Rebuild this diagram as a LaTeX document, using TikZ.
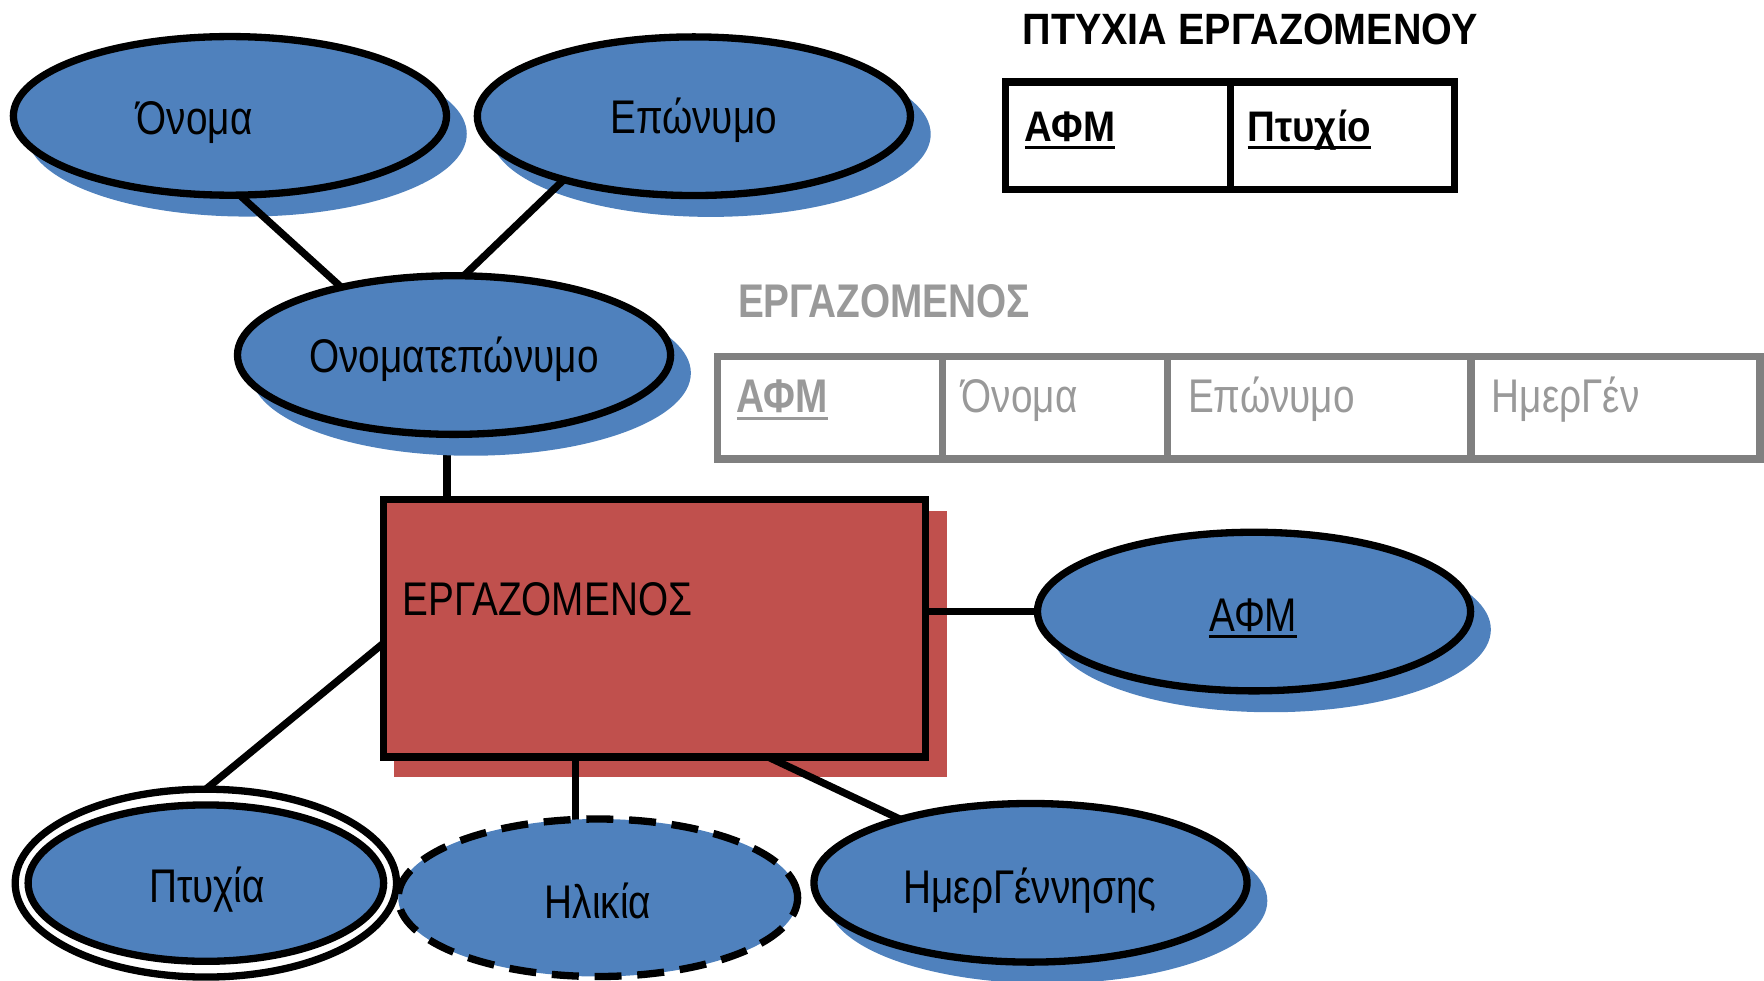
\documentclass[tikz,border=0pt]{standalone}
\usepackage{fontspec}
\setmainfont{Liberation Sans}[FakeStretch=0.82]
\newfontfamily\bfwide{Liberation Sans}[FakeStretch=0.9]
\usetikzlibrary{shapes.geometric}
\definecolor{erblue}{HTML}{4F81BD}
\definecolor{erred}{HTML}{C0504D}
\definecolor{tblgray}{HTML}{808080}
\definecolor{txtgray}{HTML}{999999}
\newsavebox\ulbox
\newcommand\ulinetext[1]{\sbox\ulbox{#1}\rlap{\rule[-6.5pt]{\wd\ulbox}{3pt}}\usebox\ulbox}
\pgfdeclarelayer{bg}
\pgfdeclarelayer{shade}
\pgfdeclarelayer{links}
\pgfsetlayers{bg,shade,links,main}
\tikzset{
  attr/.style={ellipse, draw=black, line width=6.5pt, fill=erblue, minimum width=385pt, minimum height=141pt, inner sep=0pt, outer sep=0pt},
  entity/.style={rectangle, draw=black, line width=6.5pt, fill=erred, minimum width=481.5pt, minimum height=229pt, inner sep=0pt, outer sep=0pt},
  dblouter/.style={ellipse, draw=black, line width=6.5pt, fill=white, minimum width=339pt, minimum height=167pt, inner sep=0pt, outer sep=0pt},
  derived/.style={dash pattern=on 24pt off 14pt},
  conn/.style={line width=6.5pt},
  lbl/.style={inner sep=0pt, outer sep=0pt, anchor=base, font=\fontsize{42}{48}\selectfont},
  hdr/.style={inner sep=0pt, outer sep=0pt, anchor=base west, font=\bfwide\bfseries\fontsize{39}{44}\selectfont},
  cellhdr/.style={inner sep=0pt, outer sep=0pt, anchor=base west, font=\bfwide\bfseries\fontsize{38}{44}\selectfont},
  graybf/.style={inner sep=0pt, outer sep=0pt, anchor=base west, text=txtgray, font=\bfseries\fontsize{42}{48}\selectfont},
  graytx/.style={inner sep=0pt, outer sep=0pt, anchor=base west, text=txtgray, font=\fontsize{42}{48}\selectfont},
  tbl/.style={draw=black, line width=6.5pt},
  tblg/.style={draw=tblgray, line width=6.5pt}
}
\begin{document}
\begin{tikzpicture}[x=1pt,y=-1pt]
\useasboundingbox (0,0) rectangle (1568,872);

% shapes
\node[attr] (onoma) at (204.4,103) {};
\node[attr] (epon) at (616.8,103.3) {};
\node[attr] (onomat) at (403.6,315.6) {};
\node[entity] (rect) at (581.75,558.5) {};
\node[attr] (afm) at (1114.7,543.6) {};
\node[dblouter] (ptyxout) at (183,785) {};
\node[attr, minimum width=316pt, minimum height=139pt] (ptyx) at (183,785) {};
\node[attr, derived, minimum width=355pt, minimum height=140pt] (ilikia) at (531.5,798) {};
\node[attr] (imer) at (916,784.7) {};

% shadows
\begin{pgfonlayer}{shade}
\foreach \n in {onoma,epon,onomat,afm,imer}
  \fill[erblue] ([shift={(15,16)}]\n.center) ellipse [x radius=195.5pt, y radius=73.5pt];
\fill[erred] ([shift={(9,10)}]rect.north west) rectangle ([shift={(19.5,18)}]rect.south east);
\end{pgfonlayer}

% connectors
\begin{pgfonlayer}{bg}
\draw[conn] (onomat.-95.4) -- (onomat.-95.4 |- rect.north);
\end{pgfonlayer}
\begin{pgfonlayer}{links}
\draw[conn] (onoma.-83.5) -- (onomat.149);
\draw[conn] (epon.-154.6) -- (onomat.83.6);
\draw[conn] (afm.west) -- (afm.west -| rect.east);
\draw[conn] ([yshift=-13.1pt]rect.west) -- (ptyxout.north);
\draw[conn] (ilikia.106.8) -- (ilikia.106.8 |- rect.south);
\draw[conn] ([xshift=101.25pt]rect.south) -- (imer.154.3);
\end{pgfonlayer}

% labels
\node[lbl] (tonoma) at (173,120) {Όνομα};
\node[lbl] (tepon) at (616.5,119) {Επώνυμο};
\node[lbl] (tonomat) at (403.6,330.7) {Ονοματεπώνυμο};
\node[lbl] (tafm) at (1114,561) {\ulinetext{ΑΦΜ}};
\node[lbl] (tptyx) at (184,802) {Πτυχία};
\node[lbl] (tilik) at (531.5,816) {Ηλικία};
\node[lbl] (timer) at (915.5,802.7) {ΗμερΓέννησης};
\node[lbl, anchor=base west] (trect) at (358,546.7) {ΕΡΓΑΖΟΜΕΝΟΣ};

% table ΠΤΥΧΙΑ ΕΡΓΑΖΟΜΕΝΟΥ
\node[hdr] (thead1) at (909,40) {ΠΤΥΧΙΑ ΕΡΓΑΖΟΜΕΝΟΥ};
\draw[tbl] (893.6,73) rectangle (1293,168.5);
\draw[tbl] (1093.5,73) -- (1093.5,168.5);
\node[cellhdr] (t1a) at (911,126) {\ulinetext{ΑΦΜ}};
\node[cellhdr] (t1b) at (1109,126) {\ulinetext{Πτυχίο}};

% table ΕΡΓΑΖΟΜΕΝΟΣ
\node[graybf] (thead2) at (656,282) {ΕΡΓΑΖΟΜΕΝΟΣ};
\draw[tblg] (638,317) rectangle (1564.5,408);
\draw[tblg] (837.5,317) -- (837.5,408);
\draw[tblg] (1037.5,317) -- (1037.5,408);
\draw[tblg] (1307.5,317) -- (1307.5,408);
\node[graybf] (t2a) at (655,367) {\ulinetext{ΑΦΜ}};
\node[graytx] (t2b) at (855,367) {Όνομα};
\node[graytx] (t2c) at (1056,367) {Επώνυμο};
\node[graytx] (t2d) at (1326,367) {ΗμερΓέν};
\end{tikzpicture}
\end{document}
